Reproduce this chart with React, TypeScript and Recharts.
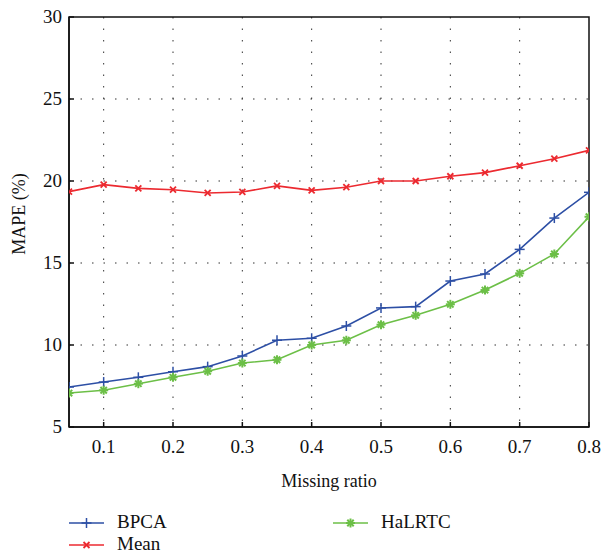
import React from "react";
import {
  LineChart,
  Line,
  XAxis,
  YAxis,
  CartesianGrid,
  ReferenceArea,
  Label,
} from "recharts";

const ratios = [0.05, 0.1, 0.15, 0.2, 0.25, 0.3, 0.35, 0.4, 0.45, 0.5, 0.55, 0.6, 0.65, 0.7, 0.75, 0.8];
const bpca = [7.44, 7.74, 8.03, 8.37, 8.68, 9.33, 10.29, 10.41, 11.16, 12.26, 12.34, 13.9, 14.33, 15.83, 17.74, 19.31];
const mean = [19.35, 19.78, 19.55, 19.47, 19.27, 19.33, 19.7, 19.43, 19.62, 20.0, 20.0, 20.29, 20.51, 20.93, 21.36, 21.87];
const halrtc = [7.07, 7.24, 7.64, 8.03, 8.4, 8.9, 9.1, 10.0, 10.29, 11.24, 11.81, 12.48, 13.35, 14.37, 15.55, 17.82];

const xTicks = [0.1, 0.2, 0.3, 0.4, 0.5, 0.6, 0.7, 0.8];
const yTicks = [5, 10, 15, 20, 25, 30];

const BLUE = "#2d4fa5";
const RED = "#ec2a30";
const GREEN = "#6cbf47";
const FONT = "'Liberation Serif', 'DejaVu Serif', serif";
const textStyle = { fill: "#111", fontSize: 19, fontFamily: FONT };

const data = ratios.map((r, i) => ({
  ratio: r,
  BPCA: bpca[i],
  Mean: mean[i],
  HaLRTC: halrtc[i],
}));

const plusMark = (cx: number, cy: number, key?: any) => (
  <g key={key}>
    <line x1={cx - 5} y1={cy} x2={cx + 5} y2={cy} stroke={BLUE} strokeWidth={1.5} />
    <line x1={cx} y1={cy - 5} x2={cx} y2={cy + 5} stroke={BLUE} strokeWidth={1.5} />
  </g>
);

const crossMark = (cx: number, cy: number, key?: any) => (
  <g key={key}>
    <line x1={cx - 3} y1={cy - 3} x2={cx + 3} y2={cy + 3} stroke={RED} strokeWidth={1.8} />
    <line x1={cx - 3} y1={cy + 3} x2={cx + 3} y2={cy - 3} stroke={RED} strokeWidth={1.8} />
  </g>
);

const starMark = (cx: number, cy: number, key?: any) => (
  <g key={key}>
    <line x1={cx - 4.5} y1={cy} x2={cx + 4.5} y2={cy} stroke={GREEN} strokeWidth={2} />
    <line x1={cx} y1={cy - 4.5} x2={cx} y2={cy + 4.5} stroke={GREEN} strokeWidth={2} />
    <line x1={cx - 3.2} y1={cy - 3.2} x2={cx + 3.2} y2={cy + 3.2} stroke={GREEN} strokeWidth={2} />
    <line x1={cx - 3.2} y1={cy + 3.2} x2={cx + 3.2} y2={cy - 3.2} stroke={GREEN} strokeWidth={2} />
  </g>
);

const dotFor = (mark: (cx: number, cy: number, key?: any) => React.ReactElement) => (props: any) => {
  const { cx, cy, index } = props;
  if (cx == null || cy == null) return <g key={index} />;
  return mark(cx, cy, index);
};

// tick labels drawn by hand so the serif font is applied through style
const XTick = (props: any) => {
  const { x, y, payload } = props;
  return (
    <text x={x} y={y} dy={16} textAnchor="middle" style={textStyle}>
      {Number(payload.value).toFixed(1)}
    </text>
  );
};

const YTick = (props: any) => {
  const { x, y, payload } = props;
  return (
    <text x={x} y={y} dy={6} textAnchor="end" style={textStyle}>
      {payload.value}
    </text>
  );
};

const legendItems = [
  { name: "BPCA", color: BLUE, mark: plusMark, x: 69, y: 523 },
  { name: "Mean", color: RED, mark: crossMark, x: 69, y: 545 },
  { name: "HaLRTC", color: GREEN, mark: starMark, x: 333, y: 523 },
];

export default function App() {
  return (
    <div style={{ position: "absolute", left: 0, top: 0, width: 602, height: 553, background: "#fff" }}>
      <LineChart
        width={602}
        height={553}
        data={data}
        margin={{ top: 17, right: 13, bottom: 86, left: 19 }}
      >
        <CartesianGrid
          stroke="#333"
          strokeDasharray="1.5 10"
          horizontalValues={[10, 15, 20, 25]}
          verticalValues={[0.1, 0.2, 0.3, 0.4, 0.5, 0.6, 0.7]}
        />
        <ReferenceArea x1={0.05} x2={0.8} y1={5} y2={30} fill="none" stroke="#111" strokeWidth={1.5} ifOverflow="visible" />
        <XAxis
          dataKey="ratio"
          type="number"
          domain={[0.05, 0.8]}
          ticks={xTicks}
          allowDataOverflow
          height={40}
          tickSize={-5}
          tickMargin={15}
          tick={<XTick />}
          axisLine={{ stroke: "#111", strokeWidth: 1.5 }}
          tickLine={{ stroke: "#111", strokeWidth: 1.5 }}
        >
          <Label
            value="Missing ratio"
            position="bottom"
            offset={7}
            style={{ fill: "#111", fontSize: 18, fontFamily: FONT }}
          />
        </XAxis>
        <XAxis
          xAxisId="top"
          dataKey="ratio"
          type="number"
          orientation="top"
          domain={[0.05, 0.8]}
          ticks={xTicks}
          height={0}
          tickSize={-4}
          tick={false}
          axisLine={false}
          tickLine={{ stroke: "#111", strokeWidth: 1.2 }}
        />
        <YAxis
          type="number"
          domain={[5, 30]}
          ticks={yTicks}
          width={50}
          tickSize={-5}
          tickMargin={12}
          tick={<YTick />}
          axisLine={{ stroke: "#111", strokeWidth: 1.5 }}
          tickLine={{ stroke: "#111", strokeWidth: 1.5 }}
        >
          <Label
            value="MAPE (%)"
            angle={-90}
            position="insideLeft"
            offset={0}
            dy={-8}
            style={{ fill: "#111", fontSize: 18, fontFamily: FONT, textAnchor: "middle" }}
          />
        </YAxis>
        <YAxis
          yAxisId="right"
          type="number"
          orientation="right"
          domain={[5, 30]}
          ticks={yTicks}
          width={0}
          tickSize={-5}
          tick={false}
          axisLine={false}
          tickLine={{ stroke: "#111", strokeWidth: 1.5 }}
        />
        <Line
          type="linear"
          dataKey="Mean"
          stroke={RED}
          strokeWidth={1.6}
          dot={dotFor(crossMark)}
          activeDot={false}
          isAnimationActive={false}
        />
        <Line
          type="linear"
          dataKey="BPCA"
          stroke={BLUE}
          strokeWidth={1.6}
          dot={dotFor(plusMark)}
          activeDot={false}
          isAnimationActive={false}
        />
        <Line
          type="linear"
          dataKey="HaLRTC"
          stroke={GREEN}
          strokeWidth={1.6}
          dot={dotFor(starMark)}
          activeDot={false}
          isAnimationActive={false}
        />
      </LineChart>
      <svg
        width={602}
        height={553}
        style={{ position: "absolute", left: 0, top: 0, pointerEvents: "none" }}
      >
        {legendItems.map((it) => (
          <g key={it.name}>
            <line x1={it.x} y1={it.y} x2={it.x + 35} y2={it.y} stroke={it.color} strokeWidth={1.6} />
            {it.mark(it.x + 17.5, it.y)}
            <text x={it.x + 48} y={it.y + 5} style={textStyle}>
              {it.name}
            </text>
          </g>
        ))}
      </svg>
    </div>
  );
}
